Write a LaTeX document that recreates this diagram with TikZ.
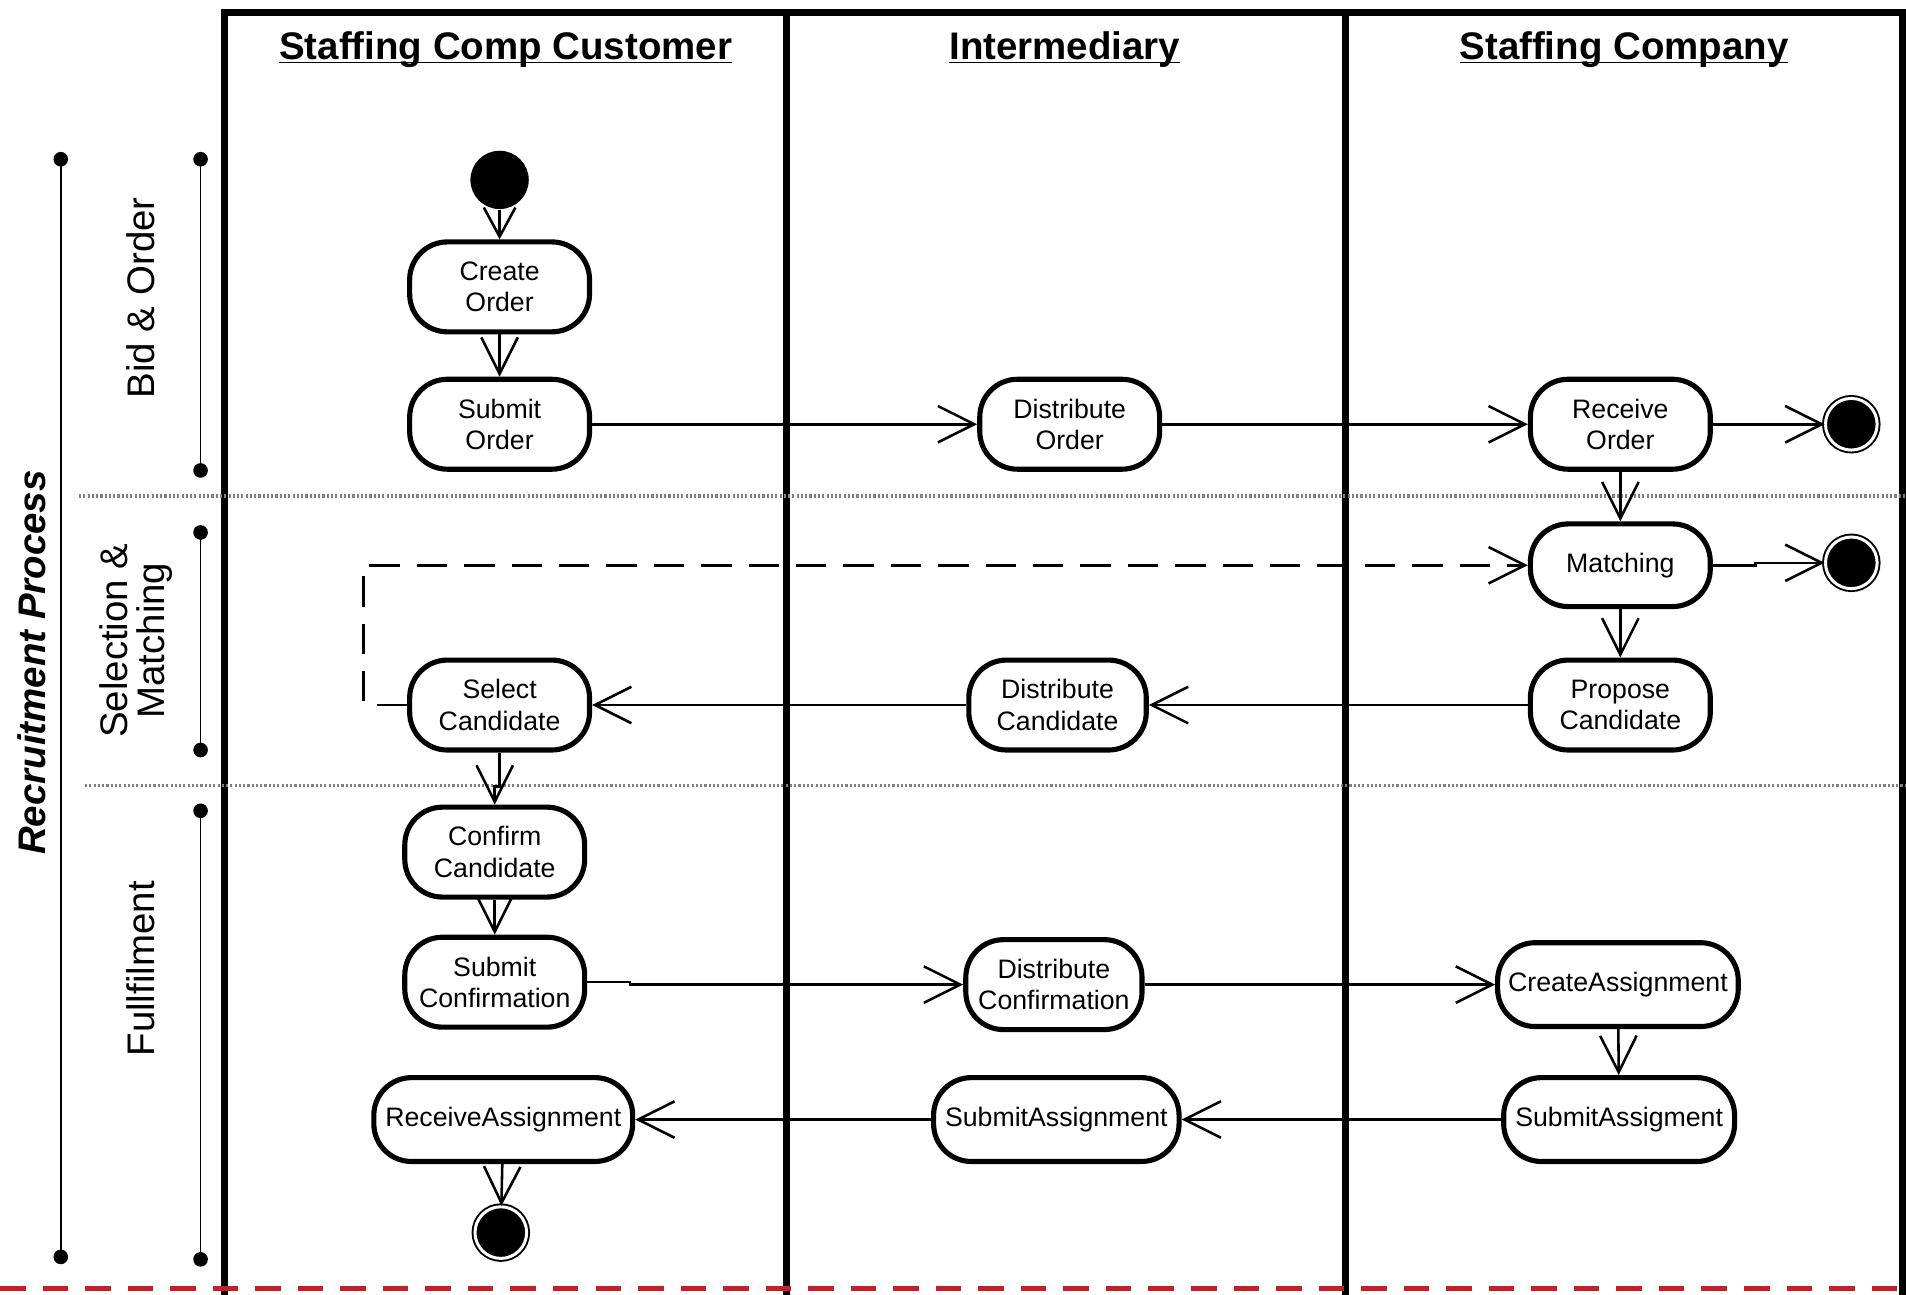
\documentclass[tikz,border=0pt]{standalone}
\usepackage{fontspec}
\setmainfont{Liberation Sans}
\usepackage{tikz}
\usetikzlibrary{arrows.meta, positioning, calc}
\definecolor{borderred}{RGB}{200, 30, 40}

\begin{document}
\begin{tikzpicture}[
  x=0.02cm, y=-0.02cm,
  action/.style={draw, line width=2.4pt, rounded corners=0.62cm, minimum width=2.96cm, minimum height=1.48cm, align=center, inner sep=2pt, font=\fontsize{12.5}{14.7}\selectfont},
  wideaction/.style={action, minimum height=1.38cm},
  startnode/.style={circle, fill=black, minimum size=0.96cm, inner sep=0pt},
  endnode/.style={circle, fill=black, draw, line width=0.9pt, double=white, double distance=1.4pt, minimum size=0.85cm, inner sep=0pt},
  flow/.style={line width=1.2pt, -{Straight Barb[length=0.6cm, width=0.6cm]}},
  shortflow/.style={line width=1.2pt, -{Straight Barb[length=0.48cm, width=0.52cm]}},
  backflow/.style={flow, dash pattern=on 0.5cm off 0.28cm},
  lane/.style={line width=3.2pt},
  phase/.style={line width=0.8pt, {Circle[length=0.24cm]}-{Circle[length=0.24cm]}},
  lanetitle/.style={anchor=base, font=\fontsize{18}{20}\selectfont\bfseries},
  phasetitle/.style={rotate=90, align=center, font=\fontsize{18}{17.5}\selectfont},
  sep/.style={gray, line width=1.6pt, dash pattern=on 1pt off 1pt}
]
  \useasboundingbox (0,0) rectangle (1568,1065);

  \draw[lane] (185,1065) -- (185,10) -- (1565,10) -- (1565,1065);
  \draw[lane] (647,10) -- (647,1065);
  \draw[lane] (1107,10) -- (1107,1065);

  \node[lanetitle] (custhead) at (416,49) {\underline{\smash{Staffing Comp Customer}}};
  \node[lanetitle] (interhead) at (876,49) {\underline{\smash{Intermediary}}};
  \node[lanetitle] (staffhead) at (1336,49) {\underline{\smash{Staffing Company}}};

  \draw[sep] (65,408) -- (1568,408);
  \draw[sep] (70,646) -- (1568,646);

  \draw[phase] (50,125) -- (50,1040);
  \draw[phase] (165,125) -- (165,393);
  \draw[phase] (165,432) -- (165,623);
  \draw[phase] (165,661) -- (165,1042);
  \node[rotate=90, font=\fontsize{18}{20}\selectfont\bfseries\itshape] (recruit) at (26,545) {Recruitment Process};
  \node[phasetitle] (bidorder) at (116,245) {Bid \& Order};
  \node[phasetitle] (selmatch) at (112,527) {Selection \&\\Matching};
  \node[phasetitle] (fulfil) at (116,797) {Fullfilment};

  \node[startnode] (start) at (411,148) {};
  \node[action] (create) at (411,236) {Create\\Order};
  \node[action] (submit) at (411,349) {Submit\\Order};
  \node[action] (distorder) at (880,349) {Distribute\\Order};
  \node[action] (recvorder) at (1333,349) {Receive\\Order};
  \node[endnode] (endorder) at (1523,349) {};
  \node[action, minimum height=1.36cm] (matching) at (1333,465) {Matching};
  \node[endnode] (endmatch) at (1523,463) {};
  \node[action] (propose) at (1333,580) {Propose\\Candidate};
  \node[action, minimum width=2.92cm] (distcand) at (870,580) {Distribute\\Candidate};
  \node[action] (select) at (411,580) {Select\\Candidate};
  \node[action] (confirm) at (407,701) {Confirm\\Candidate};
  \node[action] (subconf) at (407,808) {Submit\\Confirmation};
  \node[action, minimum width=2.9cm] (distconf) at (867,810) {Distribute\\Confirmation};
  \node[wideaction, minimum width=3.96cm] (createass) at (1331,810) {CreateAssignment};
  \node[wideaction, minimum width=3.8cm] (subassco) at (1332,921) {SubmitAssigment};
  \node[wideaction, minimum width=4.04cm] (subass) at (869,921) {SubmitAssignment};
  \node[wideaction, minimum width=4.26cm] (recvass) at (414,921) {ReceiveAssignment};
  \node[endnode] (endass) at (412,1014) {};

  \draw[shortflow] (start) -- (create);
  \draw[flow] (create) -- (submit);
  \draw[flow] (submit) -- (distorder);
  \draw[flow] (distorder) -- (recvorder);
  \draw[flow] (recvorder) -- (endorder);
  \draw[flow] (recvorder) -- (matching);
  \draw[flow] (matching.east) -- ++(35,0) |- (endmatch);
  \draw[flow] (matching) -- (propose);
  \draw[flow] (propose) -- (distcand);
  \draw[flow] (distcand) -- (select);
  \draw[backflow] (select.west) -- ++(-36,0) |- (matching.west);
  \draw[flow] (select.south) -- ++(0,28) -| (confirm.north);
  \draw[flow] (confirm) -- (subconf);
  \draw[flow] (subconf.east) -- ++(35,0) |- (distconf);
  \draw[flow] (distconf) -- (createass);
  \draw[flow] (createass) -- (subassco);
  \draw[flow] (subassco) -- (subass);
  \draw[flow] (subass) -- (recvass);
  \draw[flow] (recvass) -- (endass);

  \draw[borderred, line width=0.08cm, dash pattern=on 0.42cm off 0.28cm] (0,1060) -- (1568,1060);
\end{tikzpicture}
\end{document}
